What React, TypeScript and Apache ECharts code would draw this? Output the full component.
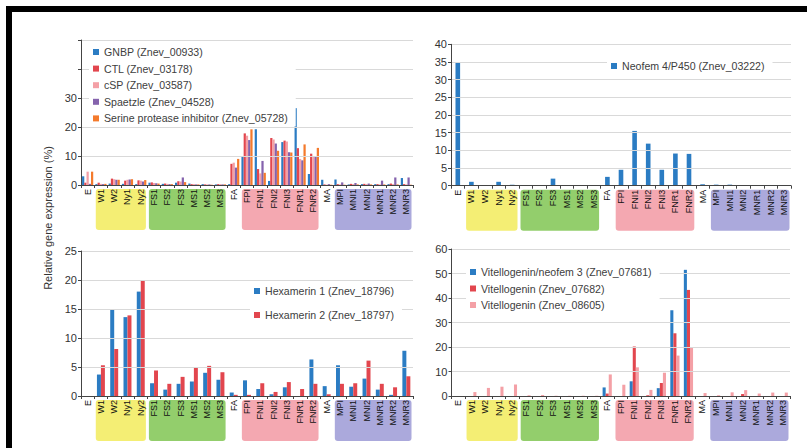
import React, { useEffect, useRef } from "react";
import * as echarts from "echarts";

const categories = ["E","W1","W2","Ny1","Ny2","FS1","FS2","FS3","MS1","MS2","MS3","FA","FPI","FNI1","FNI2","FNI3","FNR1","FNR2","MA","MPI","MNI1","MNI2","MNR1","MNR2","MNR3"];

// stage groups: [first index, last index, colour]
const stageGroups: [number, number, string][] = [
  [1, 4, "#f4ee74"],
  [5, 10, "#93ce6c"],
  [12, 17, "#f4a8b1"],
  [19, 24, "#aba9dc"],
];

// Panel A (top-left)
const gnbp = [3, 0.3, 0.5, 0.4, 0.3, 0.8, 0.4, 0.8, 0.5, 0.3, 0.2, 0.3, 10, 19.2, 1.4, 14.8, 26.5, 3.8, 1.8, 1.9, 0.2, 0.3, 0.3, 0.3, 2.4];
const ctl = [0.8, 0.8, 2.2, 1.5, 1.6, 0.9, 0.5, 1.3, 0.3, 0.2, 0.3, 7.3, 17.8, 5.5, 16.2, 15.3, 12.7, 10.8, 0.2, 0.3, 0.4, 0.4, 0.3, 0.5, 0.3];
const csp = [4.6, 0.4, 2.0, 1.8, 1.5, 0.7, 0.4, 1.2, 0.3, 0.2, 0.3, 7.7, 17.0, 4.0, 15.7, 15.0, 9.0, 10.0, 0.1, 0.2, 0.3, 0.3, 0.2, 0.3, 0.2];
const spaetzle = [0.4, 0.3, 1.8, 1.9, 1.2, 0.6, 0.3, 2.6, 0.2, 0.2, 0.2, 6.0, 15.5, 8.3, 14.3, 11.3, 8.5, 9.8, 0.3, 0.9, 0.7, 0.5, 1.5, 2.6, 2.6];
const serine = [4.6, 0.4, 1.8, 2.0, 1.7, 0.5, 0.3, 1.0, 0.2, 0.1, 0.2, 9.0, 19.2, 4.2, 11.8, 11.2, 14.0, 12.8, 0.1, 0.1, 0.2, 0.2, 0.2, 0.2, 0.1];

// Panel B (top-right)
const neofem4 = [35, 1.1, 0, 1.1, 0.3, 0, 0.1, 2.0, 0.2, 0, 0, 2.5, 4.5, 15.5, 11.9, 4.5, 9.1, 9.0, 0.4, 0.3, 0.3, 0, 0, 0, 0];

// Panel C (bottom-left)
const hex1 = [0, 3.7, 15, 13.6, 18, 2.2, 1.1, 2.1, 2.5, 4.0, 2.8, 0.6, 2.7, 1.2, 0.3, 1.5, 0, 6.3, 1.7, 5.3, 1.6, 3.0, 1.1, 0.2, 7.8];
const hex2 = [0, 5.3, 8.1, 13.9, 20, 4.4, 2.1, 3.3, 5.0, 5.2, 4.1, 0.2, 0.2, 2.2, 0.7, 2.4, 1.2, 2.1, 0.3, 2.1, 2.2, 6.1, 2.1, 1.5, 3.4];

// Panel D (bottom-right)
const vit1 = [0, 0, 0, 0, 0, 0, 0, 0, 0, 0, 0, 3.5, 0, 6.0, 0, 3.2, 35, 51.5, 0, 0, 0, 0, 0, 0, 0];
const vit2 = [0, 0, 0, 0, 0, 0, 0, 0, 0, 0, 0, 1.0, 0, 20.2, 0.3, 5.3, 25.6, 43.3, 0, 0, 0, 0.8, 0, 0, 0];
const vit3 = [0, 1.6, 3.3, 3.8, 4.7, 0.3, 0.4, 0.1, 0.1, 0.1, 0.1, 8.8, 4.6, 11.7, 2.5, 9.5, 16.5, 19.8, 1.2, 0.3, 1.5, 2.4, 1.0, 1.4, 1.4];

// y-axis scales: [max, interval, highest labelled tick]
const yScales: [number, number, number][] = [
  [50, 10, 30],
  [40, 5, 40],
  [25, 5, 25],
  [60, 10, 60],
];

const BLUE = "#2b7cc3";
const RED = "#e2464e";
const PINK = "#f4a0a6";
const PURPLE = "#8563ad";
const ORANGE = "#f47a2c";
const FONT = "'Liberation Sans', Arial, sans-serif";

export default function App() {
  const ref = useRef<HTMLDivElement>(null);
  useEffect(() => {
    if (!ref.current) return;
    const chart = echarts.init(ref.current, undefined, { renderer: "svg" });
    const grids = [
      { left: 81, top: 40, width: 332, height: 145 },
      { left: 451, top: 44.3, width: 340, height: 141.4 },
      { left: 81, top: 251, width: 332, height: 145 },
      { left: 451.5, top: 249, width: 338.5, height: 147 },
    ];
    const xAxis = grids.map((_, i) => ({
      type: "category",
      gridIndex: i,
      data: categories,
      z: 5,
      axisLine: { lineStyle: { color: "#444", width: 1 } },
      axisTick: { show: true, length: 3, lineStyle: { color: "#444" } },
      axisLabel: { rotate: 90, fontSize: 9, color: "#111", margin: 4, interval: 0, fontFamily: FONT },
    }));
    const yAxis = yScales.map(([max, interval, lab], i) => ({
      type: "value",
      gridIndex: i,
      min: 0,
      max,
      interval,
      z: 5,
      axisLine: { show: true, lineStyle: { color: "#444" } },
      axisTick: { show: true, length: 3, lineStyle: { color: "#444" } },
      splitLine: { lineStyle: { color: "#d9d9d9" } },
      axisLabel: {
        fontSize: 11,
        color: "#333",
        margin: 4,
        fontFamily: FONT,
        formatter: (v: number) => (v <= lab ? String(v) : ""),
      },
    }));
    const bar = (name: string, data: number[], color: string, idx: number, gap: string) => ({
      type: "bar",
      name,
      data,
      xAxisIndex: idx,
      yAxisIndex: idx,
      barGap: "0%",
      barCategoryGap: gap,
      itemStyle: { color },
    });
    const series = [
      bar("GNBP (Znev_00933)", gnbp, BLUE, 0, "16%"),
      bar("CTL (Znev_03178)", ctl, RED, 0, "16%"),
      bar("cSP (Znev_03587)", csp, PINK, 0, "16%"),
      bar("Spaetzle (Znev_04528)", spaetzle, PURPLE, 0, "16%"),
      bar("Serine protease inhibitor (Znev_05728)", serine, ORANGE, 0, "16%"),
      bar("Neofem 4/P450 (Znev_03222)", neofem4, BLUE, 1, "66%"),
      bar("Hexamerin 1 (Znev_18796)", hex1, BLUE, 2, "40%"),
      bar("Hexamerin 2 (Znev_18797)", hex2, RED, 2, "40%"),
      bar("Vitellogenin/neofem 3 (Znev_07681)", vit1, BLUE, 3, "32%"),
      bar("Vitellogenin (Znev_07682)", vit2, RED, 3, "32%"),
      bar("Vitellogenin (Znev_08605)", vit3, PINK, 3, "32%"),
    ];
    const legendBase = {
      orient: "vertical",
      icon: "rect",
      itemWidth: 6,
      itemHeight: 6,
      padding: [2, 8, 2, 4],
      backgroundColor: "#fff",
      selectedMode: false,
      textStyle: { fontSize: 10.6, color: "#404040", lineHeight: 12, fontFamily: FONT },
      z: 6,
    };
    const legend = [
      { ...legendBase, left: 89, top: 44, itemGap: 4.6, data: series.slice(0, 5).map((s) => s.name) },
      { ...legendBase, left: 607, top: 58, itemGap: 5, data: [series[5].name] },
      { ...legendBase, left: 250, top: 283, itemGap: 12, data: [series[6].name, series[7].name] },
      { ...legendBase, left: 466, top: 264, itemGap: 4.5, data: series.slice(8).map((s) => s.name) },
    ];
    chart.setOption({
      animation: false,
      backgroundColor: "#fff",
      textStyle: { fontFamily: FONT },
      grid: grids,
      xAxis,
      yAxis,
      series,
      legend,
    });

    const boxes: any[] = [];
    for (let g = 0; g < 4; g++) {
      const p0 = chart.convertToPixel({ xAxisIndex: g }, categories[0]) as number;
      const p1 = chart.convertToPixel({ xAxisIndex: g }, categories[1]) as number;
      const band = p1 - p0;
      const y0 = chart.convertToPixel({ yAxisIndex: g }, 0) as number;
      for (const [s, e, color] of stageGroups) {
        const cs = chart.convertToPixel({ xAxisIndex: g }, categories[s]) as number;
        const ce = chart.convertToPixel({ xAxisIndex: g }, categories[e]) as number;
        boxes.push({
          type: "rect",
          z: -1,
          shape: { x: cs - band / 2 + 1.5, y: y0 + 4, width: ce - cs + band - 3, height: 41, r: 3 },
          style: { fill: color },
        });
      }
    }
    chart.setOption({
      graphic: [
        { type: "rect", z: 10, shape: { x: 6, y: 6, width: 801, height: 6 }, style: { fill: "#000" } },
        { type: "rect", z: 10, shape: { x: 6, y: 6, width: 6, height: 442 }, style: { fill: "#000" } },
        {
          type: "text",
          x: 48,
          y: 218,
          rotation: Math.PI / 2,
          style: {
            text: "Relative gene expression (%)",
            fontSize: 11,
            fill: "#333",
            align: "center",
            verticalAlign: "middle",
            fontFamily: FONT,
          },
        },
        ...boxes,
      ],
    });
    return () => chart.dispose();
  }, []);
  return <div ref={ref} style={{ position: "absolute", left: 0, top: 0, width: 807, height: 448 }} />;
}
